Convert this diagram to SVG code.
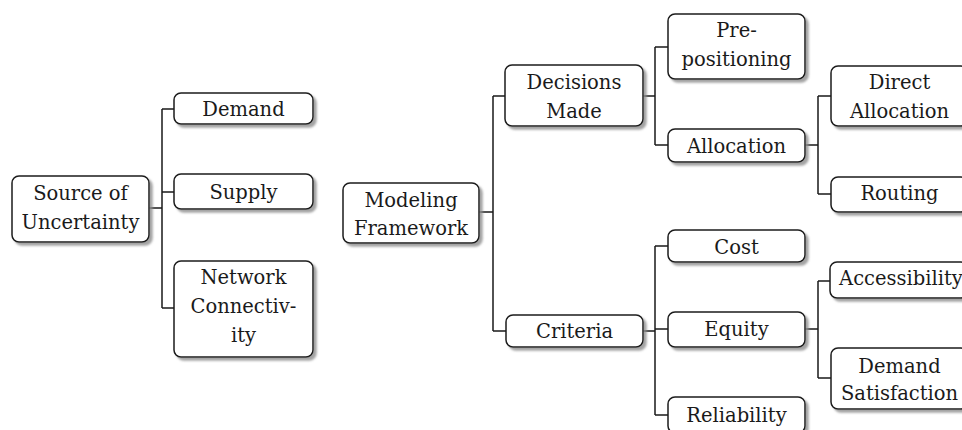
<svg xmlns="http://www.w3.org/2000/svg" width="962" height="430" viewBox="0 0 962 430">
<style>
.box{fill:#fff;stroke:#1a1a1a;stroke-width:1.5;filter:url(#sh)}
.t{font-family:'DejaVu Serif','Liberation Serif',serif;font-size:19.5px;fill:#1a1a1a;text-anchor:middle}
.c{fill:none;stroke:#1a1a1a;stroke-width:1.5}
</style>
<defs>
<filter id="sh" x="-10%" y="-10%" width="130%" height="140%">
<feDropShadow dx="3" dy="3" stdDeviation="1.2" flood-color="#8c8c8c" flood-opacity="0.8"/>
</filter>
</defs>
<rect width="962" height="430" fill="#fff"/>
<g id="connectors">
<path class="c" d="M149 208H162M162 109V308M162 109H174M162 192H174M162 308H174"/>
<path class="c" d="M479 212H493M493 96V331M493 96H505M493 331H506"/>
<path class="c" d="M643 96H655M655 47V145M655 47H668M655 145H668"/>
<path class="c" d="M805 145H818M818 96V194M818 96H831M818 194H831"/>
<path class="c" d="M643 331H655M655 246V415M655 246H668M655 329H668M655 415H668"/>
<path class="c" d="M805 329H818M818 281V378M818 281H830M818 378H831"/>
</g>
<g id="source"><rect class="box" x="12" y="176" width="137" height="66" rx="7"/><text class="t" x="80.5" y="200">Source of</text><text class="t" x="80.5" y="229">Uncertainty</text></g>
<g id="demand"><rect class="box" x="174" y="93" width="139" height="31" rx="7"/><text class="t" x="243.5" y="116">Demand</text></g>
<g id="supply"><rect class="box" x="174" y="174" width="139" height="35" rx="7"/><text class="t" x="243.5" y="199">Supply</text></g>
<g id="network"><rect class="box" x="174" y="261" width="139" height="96" rx="7"/><text class="t" x="243.5" y="284">Network</text><text class="t" x="243.5" y="313">Connectiv-</text><text class="t" x="243.5" y="342">ity</text></g>
<g id="modeling"><rect class="box" x="343" y="183" width="136" height="60" rx="7"/><text class="t" x="411" y="207">Modeling</text><text class="t" x="411" y="235">Framework</text></g>
<g id="decisions"><rect class="box" x="505" y="65" width="138" height="61" rx="7"/><text class="t" x="574" y="89">Decisions</text><text class="t" x="574" y="118">Made</text></g>
<g id="prepositioning"><rect class="box" x="668" y="14" width="137" height="65" rx="7"/><text class="t" x="736.5" y="37">Pre-</text><text class="t" x="736.5" y="66">positioning</text></g>
<g id="allocation"><rect class="box" x="668" y="129" width="137" height="33" rx="7"/><text class="t" x="736.5" y="153">Allocation</text></g>
<g id="direct"><rect class="box" x="831" y="66" width="137" height="60" rx="7"/><text class="t" x="899.5" y="89">Direct</text><text class="t" x="899.5" y="118">Allocation</text></g>
<g id="routing"><rect class="box" x="831" y="177" width="137" height="35" rx="7"/><text class="t" x="899.5" y="200">Routing</text></g>
<g id="criteria"><rect class="box" x="506" y="315" width="137" height="32" rx="7"/><text class="t" x="574.5" y="338">Criteria</text></g>
<g id="cost"><rect class="box" x="668" y="230" width="137" height="32" rx="7"/><text class="t" x="736.5" y="254">Cost</text></g>
<g id="equity"><rect class="box" x="668" y="312" width="137" height="35" rx="7"/><text class="t" x="736.5" y="336">Equity</text></g>
<g id="reliability"><rect class="box" x="668" y="397" width="137" height="36" rx="7"/><text class="t" x="736.5" y="422">Reliability</text></g>
<g id="accessibility"><rect class="box" x="830" y="262" width="138" height="36" rx="7"/><text class="t" x="901" y="285">Accessibility</text></g>
<g id="demandsat"><rect class="box" x="831" y="348" width="137" height="61" rx="7"/><text class="t" x="899.5" y="373">Demand</text><text class="t" x="899.5" y="400">Satisfaction</text></g>
</svg>
